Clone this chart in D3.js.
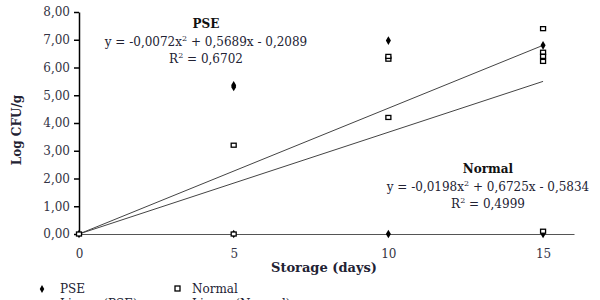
<!DOCTYPE html>
<html>
<head>
<meta charset="utf-8">
<script src="https://cdn.jsdelivr.net/npm/d3@7"></script>
<style>
  body { margin: 0; background: #fff; }
  text { font-family: "DejaVu Serif", serif; }
</style>
</head>
<body>
<div id="canvas"></div>
<script>
var width = 600;
var height = 300;

// data
var pseDays = [0, 5, 5, 5, 10, 10, 15, 15];
var pseLog = [0, 5.3, 5.36, 0, 6.97, 0, 6.8, 0];
var normalDays = [0, 5, 5, 10, 10, 10, 15, 15, 15, 15, 15];
var normalLog = [0, 3.2, 0, 6.3, 6.4, 4.2, 7.4, 6.55, 6.4, 6.22, 0.1];
var trendEnds = [[0, 6.8], [0, 5.5]]; // linear trend values at day 0 and 15
var yTicks = [0, 1, 2, 3, 4, 5, 6, 7, 8];
var xTicks = [0, 5, 10, 15];

var canvas = d3.select("#canvas").append("svg")
  .attr("width", width).attr("height", height);

var x = d3.scaleLinear().domain([0, 16]).range([79, 574]);
var y = d3.scaleLinear().domain([0, 8]).range([234, 12]);

function fmt(v){ return v.toFixed(2).replace(".", ","); }

// y axis
var yAxis = canvas.append("g").attr("transform", "translate(79,0)")
  .call(d3.axisLeft(y).tickValues(yTicks).tickFormat(fmt).tickSize(5).tickSizeOuter(0));
yAxis.select(".domain").attr("stroke", "#000").attr("stroke-width", 1.5);
yAxis.selectAll(".tick line").attr("stroke", "#000").attr("stroke-width", 1.5);
yAxis.selectAll("text").attr("font-size", 12).attr("fill", "#334").attr("x", -9)
  .style("font-family", "DejaVu Serif");

// x axis
var xAxis = canvas.append("g").attr("transform", "translate(0,234)")
  .call(d3.axisBottom(x).tickValues(xTicks).tickSize(0).tickSizeOuter(0));
xAxis.select(".domain").attr("stroke", "#555").attr("stroke-width", 1.2);
xAxis.selectAll("text").attr("font-size", 12).attr("fill", "#334").attr("y", 15)
  .style("font-family", "DejaVu Serif");

// trend lines
trendEnds.forEach(function(t){
  canvas.append("line")
    .attr("x1", x(0)).attr("y1", y(t[0]))
    .attr("x2", x(15)).attr("y2", y(t[1]))
    .attr("stroke", "#444").attr("stroke-width", 1);
});

// PSE points (diamonds)
var diamond = d3.symbol().type(d3.symbolDiamond).size(22);
canvas.selectAll(".pse").data(pseDays).enter().append("path")
  .attr("d", diamond)
  .attr("transform", function(d, i){ return "translate(" + x(d) + "," + y(pseLog[i]) + ")"; })
  .attr("fill", "#000");

// Normal points (squares)
canvas.selectAll(".nor").data(normalDays).enter().append("rect")
  .attr("x", function(d){ return x(d) - 2.5; })
  .attr("y", function(d, i){ return y(normalLog[i]) - 2; })
  .attr("width", 5).attr("height", 4)
  .attr("fill", "#fff").attr("stroke", "#000").attr("stroke-width", 1.3);

// axis titles
canvas.append("text").attr("x", 324).attr("y", 272).attr("text-anchor", "middle")
  .attr("font-size", 13).attr("font-weight", "bold").attr("fill", "#223")
  .text("Storage (days)");
canvas.append("text").attr("transform", "translate(21,130) rotate(-90)")
  .attr("text-anchor", "middle").attr("font-size", 12).attr("font-weight", "bold")
  .attr("fill", "#223").text("Log CFU/g");

// equations
function eq(cx, cy, title, a, b){
  canvas.append("text").attr("x", cx).attr("y", cy).attr("text-anchor", "middle")
    .attr("font-size", 12).attr("font-weight", "bold").attr("fill", "#111").text(title);
  var t1 = canvas.append("text").attr("x", cx).attr("y", cy + 18).attr("text-anchor", "middle")
    .attr("font-size", 12).attr("fill", "#223");
  t1.append("tspan").text(a[0]);
  t1.append("tspan").attr("dy", -5).attr("font-size", 8).text("2");
  t1.append("tspan").attr("dy", 5).text(a[1]);
  var t2 = canvas.append("text").attr("x", cx).attr("y", cy + 35).attr("text-anchor", "middle")
    .attr("font-size", 12).attr("fill", "#223");
  t2.append("tspan").text("R");
  t2.append("tspan").attr("dy", -5).attr("font-size", 8).text("2");
  t2.append("tspan").attr("dy", 5).text(b);
}
eq(206, 28, "PSE", ["y = -0,0072x", " + 0,5689x - 0,2089"], " = 0,6702");
eq(488, 173, "Normal", ["y = -0,0198x", " + 0,6725x - 0,5834"], " = 0,4999");

// legend (second row is cut off by the bottom edge, as in the original)
canvas.append("path").attr("d", d3.symbol().type(d3.symbolDiamond).size(18))
  .attr("transform", "translate(42,289)").attr("fill", "#000");
canvas.append("text").attr("x", 60).attr("y", 293).attr("font-size", 12).attr("fill", "#223").text("PSE");
canvas.append("rect").attr("x", 175).attr("y", 286).attr("width", 5).attr("height", 5)
  .attr("fill", "#fff").attr("stroke", "#000").attr("stroke-width", 1.3);
canvas.append("text").attr("x", 192).attr("y", 293).attr("font-size", 12).attr("fill", "#223").text("Normal");
canvas.append("text").attr("x", 60).attr("y", 308).attr("font-size", 12).attr("fill", "#223").text("Linear (PSE)");
canvas.append("text").attr("x", 192).attr("y", 308).attr("font-size", 12).attr("fill", "#223").text("Linear (Normal)");
</script>
</body>
</html>
